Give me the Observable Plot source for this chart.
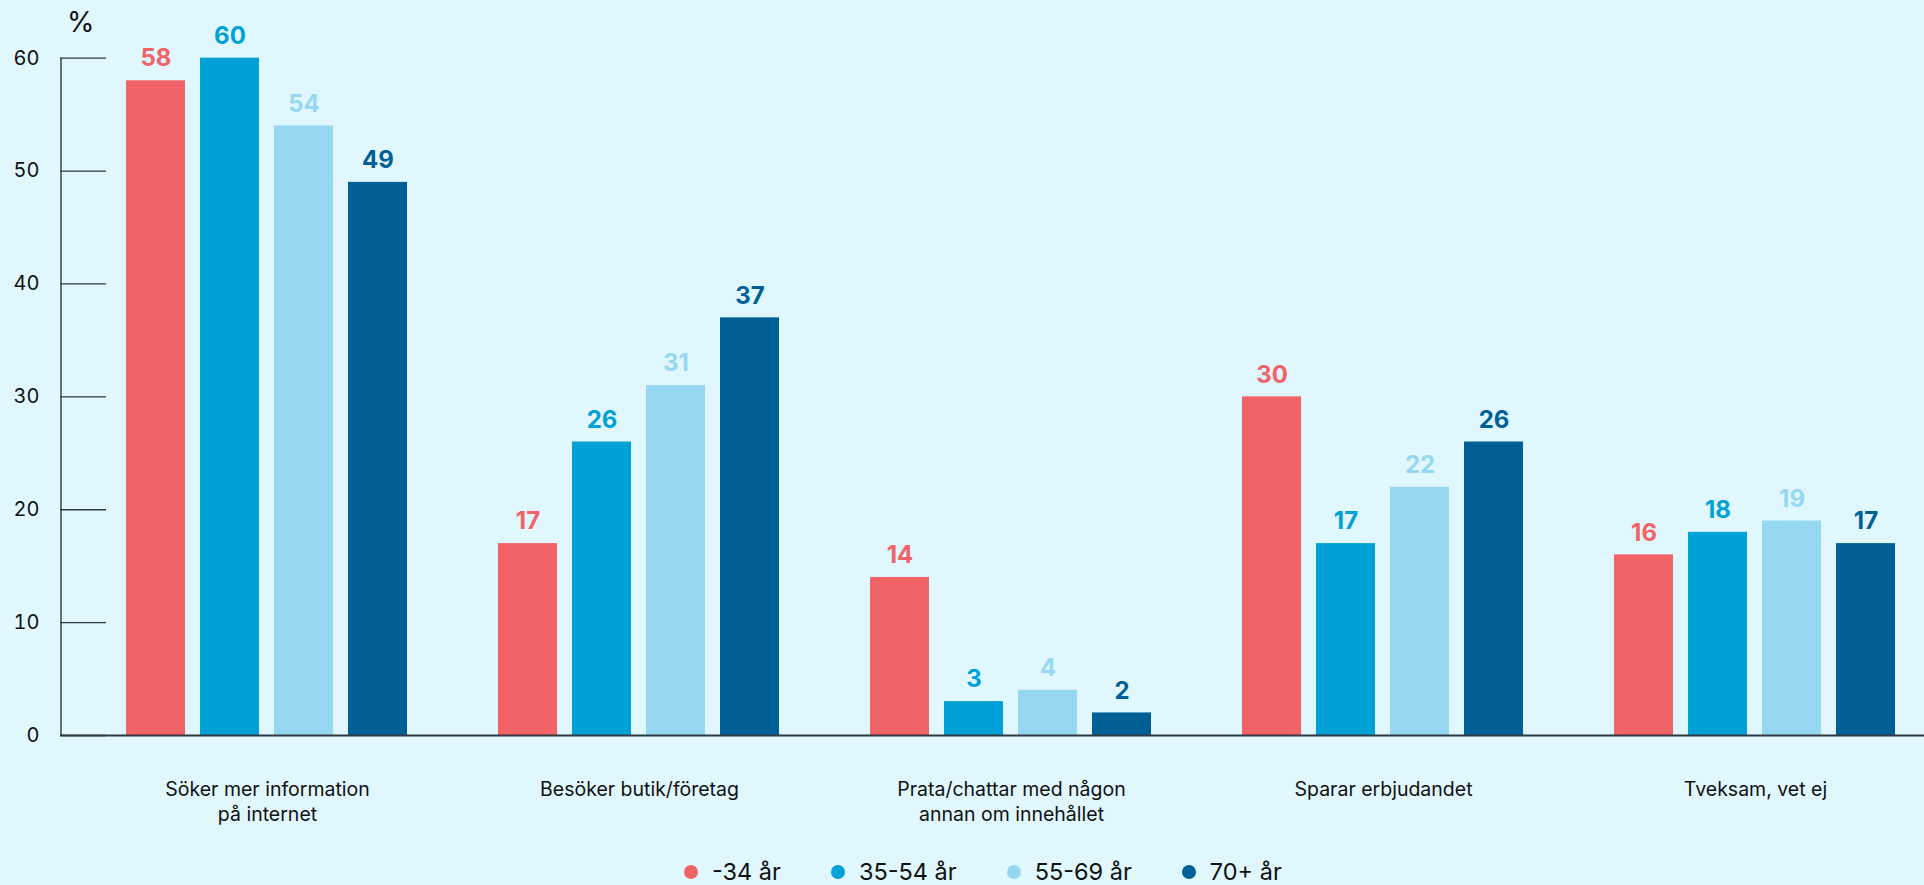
<!DOCTYPE html>
<html>
<head>
<meta charset="utf-8">
<script src="https://cdn.jsdelivr.net/npm/d3@7"></script>
<script src="https://cdn.jsdelivr.net/npm/@observablehq/plot@0.6"></script>
<style>
  html, body { margin: 0; padding: 0; background: #E0F7FE; overflow: hidden; }
  #wrap { position: relative; width: 1924px; height: 885px; font-family: Inter, "Noto Sans", sans-serif; color: #111; }
  #pct { position: absolute; left: 67px; top: 3px; font-size: 28px; line-height: 38px; }
  #legend { position: absolute; left: 684px; top: 852px; display: flex; align-items: center; font-size: 23.5px; line-height: 40px; }
  .item { display: flex; align-items: center; margin-right: 50px; }
  .dot { width: 14px; height: 14px; border-radius: 50%; margin-right: 14px; }
</style>
</head>
<body>
<div id="wrap">
  <div id="chart"></div>
  <div id="pct">%</div>
  <div id="legend"></div>
</div>
<script>
const categories = ["Söker mer information\npå internet", "Besöker butik/företag", "Prata/chattar med någon\nannan om innehållet", "Sparar erbjudandet", "Tveksam, vet ej"];
const series = ["-34 år", "35-54 år", "55-69 år", "70+ år"];
const valuesU34 = [58, 17, 14, 30, 16];
const values35_54 = [60, 26, 3, 17, 18];
const values55_69 = [54, 31, 4, 22, 19];
const values70 = [49, 37, 2, 26, 17];
const colors = ["#F26367", "#00A1D7", "#96D8F2", "#005F94"];
const yTicks = [0, 10, 20, 30, 40, 50, 60];

const seriesValues = [valuesU34, values35_54, values55_69, values70];
const data = [];
categories.forEach((c, i) => series.forEach((s, j) => data.push({cat: c, series: s, value: seriesValues[j][i]})));

const axisColor = "#2f3a40";
const W = 1924, mL = 59, mR = 27;
const firstBandStart = 124;
const chart = Plot.plot({
  width: W,
  height: 850,
  marginTop: 57.7,
  marginBottom: 115,
  marginLeft: mL,
  marginRight: mR,
  style: {background: "transparent", fontFamily: "Inter, 'Noto Sans', sans-serif", color: "#111", overflow: "visible"},
  fx: {domain: categories, paddingInner: 0.2377, paddingOuter: 0.0873, align: 1, axis: null, label: null},
  x: {domain: series, paddingInner: 0.2, paddingOuter: 0, axis: null},
  y: {domain: [0, 60], axis: null},
  color: {domain: series, range: colors},
  marks: [
    Plot.barY(data, {fx: "cat", x: "series", y: "value", fill: "series"}),
    Plot.text(data, {fx: "cat", x: "series", y: "value", text: d => String(d.value), fill: "series", dy: -22, fontSize: 24, fontWeight: 700}),
    // baseline: drawn once (in the first facet) and extended across the whole width
    Plot.ruleY([{cat: categories[0]}], {fx: "cat", y: () => 0, insetLeft: -(firstBandStart - mL), insetRight: -2000, stroke: axisColor, strokeWidth: 2}),
    // vertical y-axis line, drawn once in the first facet
    Plot.ruleX([{cat: categories[0], s: series[0]}], {fx: "cat", x: "s", y1: () => 0, y2: () => 60, dx: -95, stroke: axisColor, strokeWidth: 1.4}),
    Plot.axisY({anchor: "left", ticks: yTicks, tickSize: 46, tickPadding: 21, dx: -19, tickFormat: d => String(d), fontSize: 20, stroke: axisColor, strokeWidth: 1.3, label: null}),
    Plot.axisFx({anchor: "bottom", tickSize: 0, tickPadding: 43, fontSize: 19.5, lineHeight: 1.28, label: null})
  ]
});
document.getElementById("chart").appendChild(chart);

const legend = document.getElementById("legend");
series.forEach((s, i) => {
  const it = document.createElement("div");
  it.className = "item";
  const dot = document.createElement("span");
  dot.className = "dot";
  dot.style.background = colors[i];
  const t = document.createElement("span");
  t.textContent = s;
  it.appendChild(dot); it.appendChild(t);
  legend.appendChild(it);
});
</script>
</body>
</html>
